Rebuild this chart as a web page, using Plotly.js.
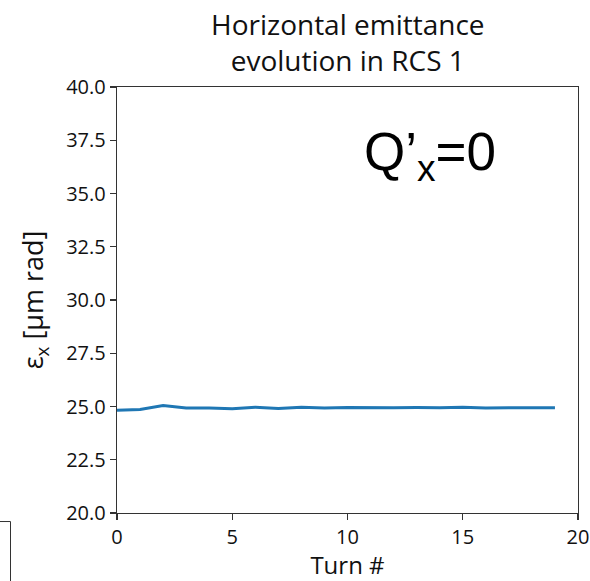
<!DOCTYPE html>
<html><head><meta charset="utf-8">
<script src="https://cdn.plot.ly/plotly-3.0.1.min.js"></script>
<style>body{margin:0;padding:0;background:#fff}#chart{width:590px;height:581px}</style>
</head><body><div id="chart"></div>
<script>
const turns = [0,1,2,3,4,5,6,7,8,9,10,11,12,13,14,15,16,17,18,19];
const emittance = [24.82,24.86,25.05,24.93,24.93,24.89,24.97,24.91,24.96,24.93,24.95,24.93,24.94,24.95,24.94,24.97,24.93,24.94,24.94,24.94];
const xTicks = [0,5,10,15,20];
const yTicks = [20.0,22.5,25.0,27.5,30.0,32.5,35.0,37.5,40.0];
const titleText = 'Horizontal emittance<br>evolution in RCS 1';

const trace = {x: turns, y: emittance, type: 'scatter', mode: 'lines',
  line: {color: '#1f77b4', width: 3}, hoverinfo: 'skip'};

const axisCommon = {showline: true, mirror: true, linecolor: '#333', linewidth: 1.3,
  ticks: 'outside', ticklen: 6, tickwidth: 1.3, tickcolor: '#333', showgrid: false, zeroline: false,
  tickfont: {family: 'Open Sans, sans-serif', size: 20, color: '#111'}};

const layout = {
  width: 590, height: 581,
  margin: {l: 117, r: 12, t: 87, b: 68},
  paper_bgcolor: '#fff', plot_bgcolor: '#fff',
  showlegend: false,
  xaxis: Object.assign({}, axisCommon, {range: [0, 20], tickvals: xTicks, ticktext: xTicks.map(String),
    title: {text: 'Turn #', standoff: 6, font: {family: 'Open Sans, sans-serif', size: 24, color: '#111'}}}),
  yaxis: Object.assign({}, axisCommon, {range: [20, 40], tickvals: yTicks, ticktext: yTicks.map(v => v.toFixed(1)),
    title: {text: 'ε<sub>x</sub> [μm rad]', standoff: 14, font: {family: 'Open Sans, sans-serif', size: 27, color: '#111'}}}),
  annotations: [
    {text: titleText, xref: 'paper', yref: 'paper', x: 0.5, y: 1.015, xanchor: 'center', yanchor: 'bottom',
      showarrow: false, font: {family: 'Open Sans, sans-serif', size: 28, color: '#111'}},
    {text: 'Q’<sub>x</sub>=0', xref: 'paper', yref: 'paper', x: 0.68, y: 0.84,
    xanchor: 'center', yanchor: 'middle', showarrow: false,
    font: {family: 'Liberation Sans, Arial, sans-serif', size: 53, color: '#000'}}],
  shapes: [
    {type: 'line', xref: 'paper', yref: 'paper', x0: -0.231, x1: -0.231, y0: -0.02, y1: -0.2, line: {color: '#333', width: 1}},
    {type: 'line', xref: 'paper', yref: 'paper', x0: -0.26, x1: -0.231, y0: -0.02, y1: -0.02, line: {color: '#333', width: 1}}
  ]
};
Plotly.newPlot('chart', [trace], layout, {displayModeBar: false, staticPlot: true});
</script></body></html>
